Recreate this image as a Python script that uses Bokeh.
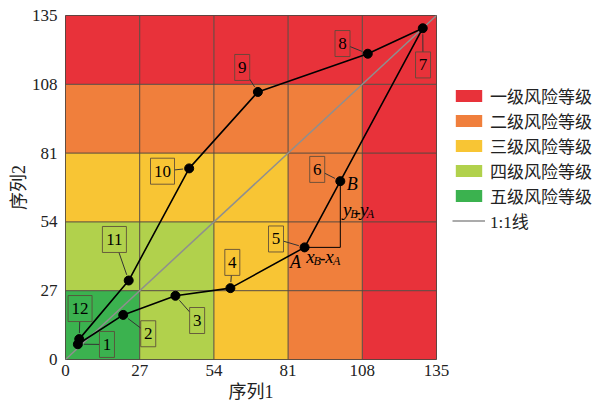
from bokeh.plotting import figure
from bokeh.models import Legend, LegendItem, FixedTicker
from bokeh.layouts import row
from bokeh.core.properties import value
from bokeh.embed import file_html
from bokeh.resources import INLINE

# ---- data ----
ticks = [0, 27, 54, 81, 108, 135]
level_names = ["一级风险等级", "二级风险等级", "三级风险等级", "四级风险等级", "五级风险等级"]
level_colors = ["#E8323A", "#F07F3C", "#F8C534", "#B1D14C", "#3BB24F"]
point_ids = ["1", "2", "3", "4", "5", "6", "7", "8", "9", "10", "11", "12"]
series1 = [4.5, 21, 40, 60, 87, 100, 130, 110, 70, 45, 23, 5]
series2 = [6, 17.5, 25, 28, 44, 70, 130, 120, 105, 75, 31, 8]
# label box centres (data units)
label_x = [15.1, 30.1, 47.9, 60.7, 76.6, 91.6, 130.1, 100.8, 64.3, 35.3, 17.8, 5.3]
label_y = [5.9, 10.1, 15.3, 38.1, 47.3, 74.6, 115.6, 124.0, 114.6, 73.9, 47.1, 20.0]

SERIF = "'Liberation Serif', 'Noto Sans CJK SC'"
NUM = "'Liberation Serif'"
GRID_C = "#56493f"
DIAG_C = "#8F8F8F"
NAN = float("nan")

FW, FH = 371, 344
p = figure(width=452, height=404, x_range=(0, 135), y_range=(0, 135),
           output_backend="svg", toolbar_location=None,
           min_border_left=65, min_border_right=16, min_border_top=15, min_border_bottom=45)
p.background_fill_color = "white"
p.border_fill_color = "white"
p.outline_line_color = "#444444"
p.xgrid.visible = False
p.ygrid.visible = False

# ---- risk cells ----
n = len(ticks) - 1
for lev in range(5):
    L, R, B, T = [], [], [], []
    for i in range(n):
        for j in range(n):
            if (n - 1) - max(i, j) == lev:
                L.append(ticks[i]); R.append(ticks[i + 1]); B.append(ticks[j]); T.append(ticks[j + 1])
    p.quad(left=L, right=R, bottom=B, top=T, fill_color=level_colors[lev], line_color=None)

# grid lines
p.segment(x0=ticks, y0=[0] * len(ticks), x1=ticks, y1=[135] * len(ticks), line_color=GRID_C, line_width=1)
p.segment(x0=[0] * len(ticks), y0=ticks, x1=[135] * len(ticks), y1=ticks, line_color=GRID_C, line_width=1)

# 1:1 line
p.line(x=[ticks[0], ticks[-1]], y=[ticks[0], ticks[-1]], line_color=DIAG_C, line_width=1.5)

# data path
p.line(x=series1, y=series2, line_color="black", line_width=1.6)
p.scatter(x=series1, y=series2, size=9, fill_color="black", line_color="black")

# leader lines + label boxes
sx, sy = FW / 135.0, FH / 135.0
x0s, y0s, x1s, y1s, bw = [], [], [], [], []
for k in range(len(point_ids)):
    w = 15 if len(point_ids[k]) == 1 else 24
    h = 26
    bw.append(w)
    dx = (label_x[k] - series1[k]) * sx
    dy = (label_y[k] - series2[k]) * sy
    d = (dx * dx + dy * dy) ** 0.5
    t = min((w / 2) / abs(dx) if dx else 1e9, (h / 2) / abs(dy) if dy else 1e9)
    ex, ey = dx * (1 - t), dy * (1 - t)
    st = 6.0 / d
    x0s.append(series1[k] + dx * st / sx); y0s.append(series2[k] + dy * st / sy)
    x1s.append(series1[k] + ex / sx); y1s.append(series2[k] + ey / sy)
p.segment(x0=x0s, y0=y0s, x1=x1s, y1=y1s, line_color="#333333", line_width=1)
p.rect(x=label_x, y=label_y, width=bw, height=[26] * len(bw), width_units="screen", height_units="screen",
       fill_color=None, line_color="#5a4a3a", line_alpha=0.85, line_width=1)
p.text(x=label_x, y=label_y, text=point_ids, text_align="center", text_baseline="middle",
       text_font=value(NUM), text_font_size="17px", text_color="black")

# A/B construction
iA, iB = 4, 5
p.line(x=[series1[iA], series1[iB], series1[iB]], y=[series2[iA], series2[iA], series2[iB]],
       line_color="black", line_width=1)

def itxt(xv, yv, s, dx, dy, size):
    p.text(x=[xv], y=[yv], text=[s], x_offset=dx, y_offset=dy, text_align="center", text_baseline="middle",
           text_font=value(NUM), text_font_style="italic", text_font_size=size, text_color="black")

itxt(series1[iA], series2[iA], "A", -9, 15, "18px")
itxt(series1[iB], series2[iB], "B", 12, 3, "18px")
# x_B - x_A
itxt(series1[iA], series2[iA], "x", 6, 9, "19px")
itxt(series1[iA], series2[iA], "B", 12.5, 14, "12px")
itxt(series1[iA], series2[iA], "-", 18, 10, "18px")
itxt(series1[iA], series2[iA], "x", 25, 9, "19px")
itxt(series1[iA], series2[iA], "A", 32, 14, "12px")
# y_B - y_A
itxt(series1[iB], series2[iB], "y", 7, 28, "19px")
itxt(series1[iB], series2[iB], "B", 13.5, 33, "12px")
itxt(series1[iB], series2[iB], "-", 17.5, 30, "18px")
itxt(series1[iB], series2[iB], "y", 24, 28, "19px")
itxt(series1[iB], series2[iB], "A", 30, 33, "12px")

# ---- axes ----
for ax in (p.xaxis[0], p.yaxis[0]):
    ax.ticker = FixedTicker(ticks=ticks)
    ax.axis_line_color = None
    ax.major_tick_line_color = None
    ax.minor_tick_line_color = None
    ax.major_tick_out = 0
    ax.major_tick_in = 0
    ax.major_label_text_font = NUM
    ax.major_label_text_font_size = "17px"
    ax.major_label_text_color = "#222222"
    ax.axis_label_text_font = SERIF
    ax.axis_label_text_font_size = "18px"
    ax.axis_label_text_font_style = "normal"
    ax.axis_label_text_color = "#222222"
p.xaxis.axis_label = "序列1"
p.yaxis.axis_label = "序列2"
p.xaxis.major_label_standoff = 5
p.xaxis.axis_label_standoff = 3
p.yaxis.major_label_standoff = 8
p.yaxis.axis_label_standoff = 0

# ---- legend (separate panel figure, frame aligned with main plot) ----
q = figure(width=164, height=404, output_backend="svg", toolbar_location=None,
           x_axis_type=None, y_axis_type=None,
           min_border_left=0, min_border_right=0, min_border_top=15, min_border_bottom=45)
q.outline_line_color = None
q.xgrid.visible = False
q.ygrid.visible = False
legend_renderers = [q.quad(left=[NAN], right=[NAN], bottom=[NAN], top=[NAN],
                           fill_color=level_colors[k], line_color=None) for k in range(5)]
legend_renderers.append(q.line(x=[NAN, NAN], y=[NAN, NAN], line_color=DIAG_C, line_width=1.5))
items = [LegendItem(label=level_names[k], renderers=[legend_renderers[k]]) for k in range(5)]
items.append(LegendItem(label="1:1线", renderers=[legend_renderers[5]]))
legend = Legend(items=items, location=(0, 126), orientation="vertical")
legend.background_fill_alpha = 0
legend.border_line_color = None
legend.padding = 0
legend.margin = 0
legend.glyph_width = 33
legend.glyph_height = 15
legend.label_height = 20
legend.spacing = 0
legend.label_standoff = 5
legend.label_text_font = SERIF
legend.label_text_font_size = "17px"
legend.label_text_color = "#222222"
q.add_layout(legend)

open("out.html", "w").write(file_html(row(p, q), INLINE))
